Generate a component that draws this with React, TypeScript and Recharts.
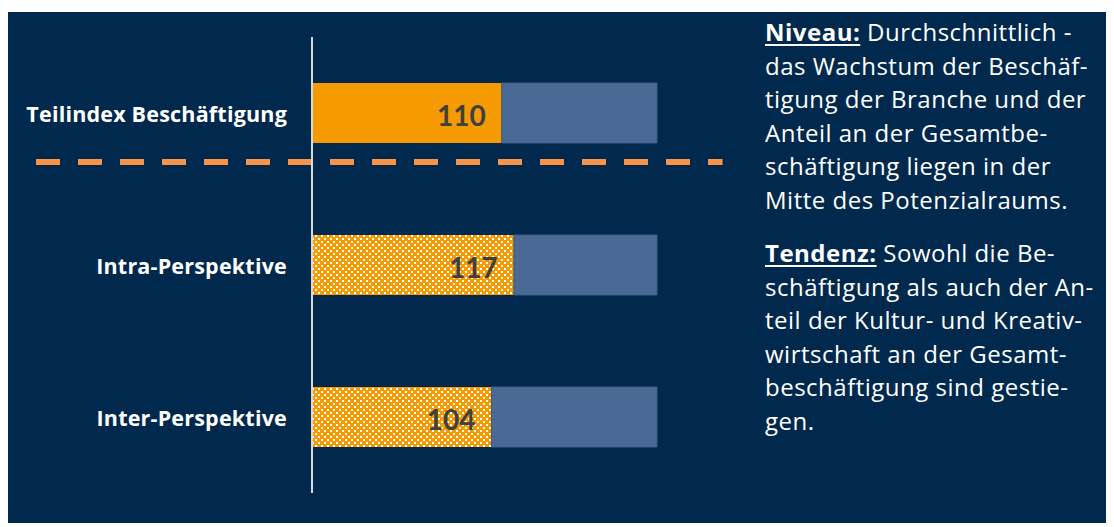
import React from 'react';
import { BarChart, Bar, XAxis, YAxis, Cell, LabelList, ReferenceLine } from 'recharts';

const categories = ['Teilindex Beschäftigung', 'Intra-Perspektive', 'Inter-Perspektive'];
const values = [110, 117, 104];
const remainders = [90, 83, 96];
const dotted = [false, true, true];
const axisMax = 200;
const separatorPos = 1.452;
const separatorFrom = -160;
const separatorTo = 238;

const niveauLines = [
  'das Wachstum der Beschäf-',
  'tigung der Branche und der',
  'Anteil an der Gesamtbe-',
  'schäftigung liegen in der',
  'Mitte des Potenzialraums.',
];
const tendenzLines = [
  'schäftigung als auch der An-',
  'teil der Kultur- und Kreativ-',
  'wirtschaft an der Gesamt-',
  'beschäftigung sind gestie-',
  'gen.',
];

const data = categories.map((name, i) => ({
  name,
  value: values[i],
  rest: remainders[i],
}));

const NAVY = '#00294D';
const ORANGE = '#F59A00';
const BLUE = '#4A6A95';
const DASH = '#F7944A';
const FONT = '"Open Sans", Lato, sans-serif';
const NUM_FONT = 'Lato, "Open Sans", sans-serif';

const CategoryTick = (props: any) => {
  const { x, y, payload } = props;
  return (
    <text
      x={x - 25}
      y={y}
      textAnchor="end"
      dominantBaseline="central"
      fill="#FFFFFF"
      fontFamily={FONT}
      fontWeight={700}
      fontSize={21.5}
      letterSpacing={0.2}
    >
      {payload.value}
    </text>
  );
};

const ValueLabel = (props: any) => {
  const { x, y, width, height, value } = props;
  return (
    <text
      x={x + width - 16}
      y={y + height / 2 + 2}
      textAnchor="end"
      dominantBaseline="central"
      fill="#404040"
      fontFamily={NUM_FONT}
      fontWeight={700}
      fontSize={28}
    >
      {value}
    </text>
  );
};

const textStyle: React.CSSProperties = {
  position: 'absolute',
  left: 757,
  color: '#FFFFFF',
  fontFamily: FONT,
  fontSize: 24,
  letterSpacing: 0.5,
  lineHeight: '33.5px',
  whiteSpace: 'nowrap',
};

export default function App() {
  return (
    <div style={{ position: 'relative', top: 4, width: 1106, height: 515, background: NAVY }}>
      <svg width={0} height={0} style={{ position: 'absolute' }}>
        <defs>
          <pattern id="dots" width={6} height={6} patternUnits="userSpaceOnUse">
            <rect x={0} y={0} width={6} height={6} fill={ORANGE} />
            <rect x={1} y={1} width={2} height={2} fill="#FFFFFF" />
            <rect x={4} y={4} width={2} height={2} fill="#FFFFFF" />
          </pattern>
        </defs>
      </svg>
      <BarChart
        width={1106}
        height={515}
        data={data}
        layout="vertical"
        margin={{ top: 25, right: 457, bottom: 34, left: 0 }}
      >
        <XAxis type="number" domain={[0, axisMax]} hide />
        <YAxis
          type="category"
          dataKey="name"
          width={304}
          axisLine={{ stroke: '#D9D9D9', strokeWidth: 2 }}
          tickLine={false}
          tickSize={0}
          tickMargin={0}
          tick={<CategoryTick />}
        />
        <YAxis
          yAxisId="sep"
          type="number"
          domain={[0, 3]}
          tickCount={4}
          allowDataOverflow
          reversed
          hide
        />
        <Bar dataKey="value" stackId="a" barSize={60} isAnimationActive={false}>
          {data.map((d, i) => (
            <Cell key={d.name} fill={dotted[i] ? 'url(#dots)' : ORANGE} />
          ))}
          <LabelList dataKey="value" content={<ValueLabel />} />
        </Bar>
        <Bar dataKey="rest" stackId="a" barSize={60} fill={BLUE} stroke="#3E5C86" strokeWidth={1} isAnimationActive={false} />
        <ReferenceLine
          yAxisId="sep"
          segment={[
            { x: separatorFrom, y: separatorPos },
            { x: separatorTo, y: separatorPos },
          ]}
          stroke={DASH}
          strokeWidth={6}
          strokeDasharray="24 18"
          ifOverflow="visible"
        />
      </BarChart>
      <div style={{ ...textStyle, top: 3 }}>
        <div>
          <span style={{ fontWeight: 700, textDecoration: 'underline', textUnderlineOffset: 3 }}>Niveau:</span>{' '}
          Durchschnittlich -
        </div>
        {niveauLines.map((l) => (
          <div key={l}>{l}</div>
        ))}
      </div>
      <div style={{ ...textStyle, top: 224 }}>
        <div>
          <span style={{ fontWeight: 700, textDecoration: 'underline', textUnderlineOffset: 3 }}>Tendenz:</span>{' '}
          Sowohl die Be-
        </div>
        {tendenzLines.map((l) => (
          <div key={l}>{l}</div>
        ))}
      </div>
    </div>
  );
}
